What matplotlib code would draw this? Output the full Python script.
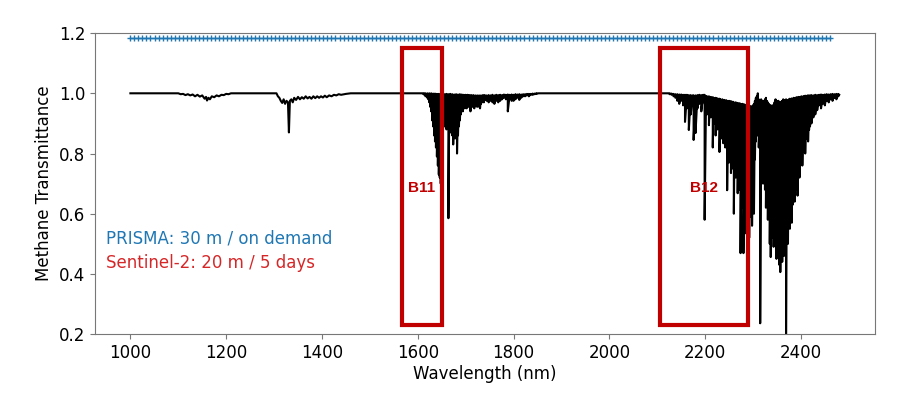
import numpy as np
import matplotlib.pyplot as plt
from matplotlib.patches import Rectangle

# ---- methane transmittance (wavelength nm, transmittance) ----
# quiet stretches and weak bands, as a plain line
wl_weak = [1000, 1100, 1105, 1110, 1115, 1120, 1125, 1130, 1135, 1140, 1145, 1150,
           1155, 1158, 1160, 1163, 1166, 1170, 1175, 1180, 1185, 1190, 1195, 1200,
           1205, 1210, 1305, 1308, 1311, 1314, 1317, 1320, 1323, 1326, 1329, 1331,
           1333, 1336, 1339, 1342, 1346, 1350, 1354, 1358, 1362, 1366, 1370, 1374,
           1378, 1382, 1386, 1390, 1394, 1398, 1402, 1406, 1410, 1415, 1420, 1425,
           1430, 1435, 1440, 1450, 1460, 1605]
t_weak = [1.0, 1.0, 0.997, 0.998, 0.994, 0.997, 0.993, 0.996, 0.99, 0.995, 0.989, 0.993,
          0.982, 0.988, 0.976, 0.985, 0.98, 0.99, 0.987, 0.993, 0.99, 0.995, 0.994, 0.998,
          0.997, 1.0, 1.0, 0.99, 0.985, 0.975, 0.968, 0.98, 0.965, 0.975, 0.97, 0.87,
          0.975, 0.98, 0.97, 0.985, 0.978, 0.988, 0.98, 0.987, 0.982, 0.99, 0.983, 0.988,
          0.982, 0.99, 0.984, 0.99, 0.985, 0.99, 0.986, 0.992, 0.987, 0.993, 0.99, 0.995,
          0.993, 0.997, 0.995, 0.998, 1.0, 1.0]

# 1.65 um band (Sentinel-2 B11 side): one entry per line, top of the line and its bottom
b11_wl = [1612, 1614, 1616, 1618, 1620, 1622, 1624, 1626, 1628, 1630, 1632, 1634, 1636,
          1638, 1640, 1642, 1644, 1646, 1648, 1650, 1652, 1654, 1656, 1658, 1660, 1662,
          1664, 1666, 1668, 1670, 1672, 1674, 1676, 1678, 1680, 1682, 1684, 1686, 1688,
          1690, 1692, 1694, 1696, 1698, 1700, 1702, 1704, 1706, 1708, 1710, 1712, 1714,
          1716, 1718, 1720, 1722, 1724, 1726, 1728, 1730, 1732, 1734, 1736, 1738, 1740,
          1744, 1748, 1752, 1756, 1760, 1764, 1768, 1772, 1776, 1780, 1784, 1788, 1792,
          1796, 1800, 1804, 1808, 1812, 1816, 1820, 1824, 1828, 1832, 1836, 1840, 1844,
          1848, 1852, 2120]
b11_top = [1.0, 0.999, 1.0, 0.998, 1.0, 0.998, 1.0, 0.997, 1.0, 0.997, 0.999, 0.996, 0.999,
           0.996, 0.998, 0.995, 0.998, 0.995, 0.997, 0.995, 0.998, 0.995, 0.997, 0.995, 0.998,
           0.995, 0.997, 0.995, 0.998, 0.994, 0.997, 0.994, 0.996, 0.994, 0.997, 0.994, 0.996,
           0.994, 0.997, 0.993, 0.996, 0.993, 0.995, 0.993, 0.995, 0.992, 0.995, 0.992, 0.994,
           0.992, 0.994, 0.991, 0.994, 0.991, 0.993, 0.991, 0.993, 0.99, 0.993, 0.99, 0.993,
           0.991, 0.994, 0.992, 0.994, 0.993, 0.994, 0.993, 0.995, 0.993, 0.995, 0.994, 0.995,
           0.994, 0.996, 0.995, 0.996, 0.995, 0.996, 0.995, 0.997, 0.996, 0.997, 0.996, 0.997,
           0.997, 0.998, 0.998, 0.998, 0.999, 0.999, 1.0, 1.0, 1.0]
b11_dip = [0.997, 0.995, 0.99, 0.993, 0.985, 0.98, 0.97, 0.955, 0.94, 0.91, 0.89, 0.86, 0.84,
           0.82, 0.79, 0.76, 0.73, 0.72, 0.70, 0.75, 0.88, 0.90, 0.89, 0.91, 0.88, 0.90,
           0.585, 0.89, 0.87, 0.90, 0.86, 0.83, 0.88, 0.85, 0.87, 0.80, 0.86, 0.89, 0.91,
           0.93, 0.95, 0.94, 0.96, 0.95, 0.965, 0.95, 0.96, 0.955, 0.965, 0.94, 0.96, 0.955,
           0.965, 0.95, 0.96, 0.965, 0.955, 0.96, 0.955, 0.95, 0.965, 0.97, 0.975, 0.97, 0.978,
           0.975, 0.97, 0.975, 0.97, 0.965, 0.975, 0.97, 0.975, 0.98, 0.985, 0.98, 0.94, 0.98,
           0.975, 0.975, 0.98, 0.985, 0.978, 0.985, 0.99, 0.99, 0.993, 0.99, 0.995, 0.995,
           0.997, 0.998, 1.0, 1.0]

# 2.3 um band (Sentinel-2 B12 side): one entry per line, top of the line and its bottom
b12_wl = [2126, 2130, 2134, 2138, 2142, 2146, 2150, 2154, 2158, 2162, 2166, 2170, 2174,
          2176, 2180, 2184, 2188, 2192, 2196, 2199, 2202, 2204, 2206, 2208, 2210, 2212,
          2214, 2216, 2218, 2220, 2222, 2224, 2226, 2228, 2230, 2232, 2234, 2236, 2238,
          2240, 2242, 2244, 2246, 2248, 2250, 2252, 2254, 2256, 2258, 2260, 2262, 2264,
          2266, 2268, 2270, 2272, 2274, 2276, 2278, 2280, 2282, 2284, 2286, 2288, 2290,
          2292, 2294, 2296, 2298, 2300, 2302, 2304, 2306, 2308, 2310, 2312, 2315, 2317,
          2319, 2321, 2323, 2325, 2327, 2329, 2331, 2333, 2335, 2337, 2339, 2341, 2343,
          2345, 2347, 2349, 2351, 2353, 2355, 2357, 2359, 2361, 2363, 2365, 2367, 2369,
          2371, 2373, 2375, 2377, 2379, 2381, 2383, 2385, 2387, 2389, 2391, 2393, 2395,
          2397, 2399, 2401, 2403, 2405, 2407, 2409, 2411, 2413, 2415, 2417, 2419, 2422,
          2426, 2430, 2434, 2438, 2442, 2446, 2450, 2454, 2458, 2462, 2466, 2470, 2474,
          2478, 2480]
b12_top = [1.0, 0.999, 0.998, 0.997, 0.997, 0.996, 0.996, 0.995, 0.995, 0.995, 0.994, 0.994,
           0.993, 0.993, 0.993, 0.994, 0.995, 0.994, 0.995, 0.995,
           0.99, 0.99, 0.988, 0.99, 0.987, 0.988, 0.985, 0.987, 0.985, 0.983, 0.985, 0.982,
           0.983, 0.98, 0.982, 0.98, 0.978, 0.98, 0.977, 0.978, 0.975, 0.977, 0.975, 0.973,
           0.975,
           0.972, 0.974, 0.97, 0.972, 0.97, 0.968, 0.97, 0.967, 0.968, 0.965, 0.967, 0.965,
           0.963, 0.965, 0.962, 0.963, 0.96, 0.962, 0.96, 0.958, 0.96, 0.955, 0.957, 0.955,
           0.96, 0.965, 0.975, 0.985, 0.99, 1.0, 0.98,
           0.975,
           0.98, 0.975, 0.97, 0.975, 0.98, 0.985, 0.975, 0.97, 0.965, 0.96, 0.96, 0.958,
           0.96, 0.955, 0.97, 0.98, 0.975, 0.97, 0.975, 0.97, 0.968, 0.972, 0.975, 0.98,
           0.978, 0.975, 0.98, 0.978, 0.975, 0.98, 0.982, 0.98, 0.983, 0.98, 0.985, 0.983,
           0.985, 0.987, 0.985, 0.988, 0.987, 0.988, 0.99, 0.988, 0.99, 0.99, 0.992, 0.99,
           0.992, 0.993, 0.992, 0.993,
           0.994, 0.993, 0.995, 0.994, 0.995, 0.996, 0.995, 0.996, 0.997, 0.996, 0.997,
           0.998, 0.997, 0.998, 0.998,
           0.995]
b12_dip = [0.997, 0.995, 0.99, 0.985, 0.975, 0.965, 0.975, 0.96, 0.905, 0.95, 0.878, 0.93,
           0.96, 0.845, 0.868, 0.95, 0.965, 0.94, 0.97, 0.58, 0.95, 0.93, 0.96, 0.894,
           0.94, 0.92, 0.95, 0.82, 0.93, 0.90, 0.86, 0.92, 0.88, 0.91, 0.805, 0.88,
           0.85, 0.89, 0.834, 0.87, 0.82, 0.86, 0.678, 0.80, 0.77, 0.81, 0.735, 0.79,
           0.75, 0.60, 0.76, 0.72, 0.74, 0.668, 0.71, 0.68, 0.469, 0.66, 0.62, 0.469,
           0.60, 0.535, 0.58, 0.56, 0.60, 0.52, 0.59, 0.61, 0.56, 0.62, 0.60, 0.78,
           0.84, 0.88, 0.86, 0.82, 0.236, 0.72, 0.74, 0.70, 0.76, 0.68, 0.62, 0.70,
           0.58, 0.64, 0.50, 0.456, 0.55, 0.52, 0.49, 0.57, 0.53, 0.45, 0.50, 0.47,
           0.43, 0.406, 0.48, 0.44, 0.50, 0.46, 0.52, 0.19, 0.55, 0.50, 0.58, 0.55,
           0.60, 0.57, 0.63, 0.655, 0.64, 0.68, 0.70, 0.66, 0.745, 0.72, 0.77, 0.80,
           0.76, 0.805, 0.83, 0.80, 0.85, 0.87, 0.84, 0.878, 0.89, 0.90, 0.92, 0.93,
           0.944, 0.96, 0.95, 0.965, 0.96, 0.975, 0.97, 0.98, 0.975, 0.985, 0.98, 0.99,
           0.995]

# PRISMA band centres (blue, plotted at a fixed height above the spectrum)
prisma_first, prisma_last, prisma_count = 1000, 2461, 175
prisma_level = 1.185

# Sentinel-2 bands: name, start, end (nm)
s2_names = ["B11", "B12"]
s2_start = [1567, 2105]
s2_end = [1650, 2290]
box_bottom, box_top = 0.23, 1.15
label_level = 0.685


def line_series(centres, tops, dips):
    # each absorption line: drop from its top straight down to its bottom
    x = np.repeat(centres, 2)
    y = np.column_stack([tops, dips]).ravel()
    return x, y


x11, y11 = line_series(b11_wl, b11_top, b11_dip)
x12, y12 = line_series(b12_wl, b12_top, b12_dip)
wl = np.concatenate([wl_weak, x11, x12])
t = np.concatenate([t_weak, y11, y12])

plt.rcParams['font.family'] = ['DejaVu Sans']
fig = plt.figure(figsize=(9.13, 3.94), dpi=100)
ax = fig.add_axes([0.104, 0.152, 0.854, 0.764])

ax.plot(wl, t, color='k', lw=1.5)
prisma_wl = np.linspace(prisma_first, prisma_last, prisma_count)
ax.plot(prisma_wl, [prisma_level] * len(prisma_wl), color='#1f77b4', marker='+',
        markersize=4, lw=1)

for name, a, b in zip(s2_names, s2_start, s2_end):
    ax.add_patch(Rectangle((a, box_bottom), b - a, box_top - box_bottom, fill=False,
                           edgecolor='#c00000', lw=3, zorder=5))
    ax.text((a + b) / 2, label_level, name, color='#c00000', fontsize=11,
            fontweight='bold', family='Liberation Sans', ha='center', va='center')

ax.text(950, 0.516, "PRISMA: 30 m / on demand", color='#1f77b4', fontsize=12, va='center')
ax.text(950, 0.436, "Sentinel-2: 20 m / 5 days", color='#d62728', fontsize=12, va='center')

ax.set_ylim(0.2, 1.2)
ax.set_xlim(926, 2554)
ax.set_xticks([1000, 1200, 1400, 1600, 1800, 2000, 2200, 2400])
ax.set_yticks([0.2, 0.4, 0.6, 0.8, 1.0, 1.2])
ax.set_xlabel("Wavelength (nm)", fontsize=12, labelpad=2)
ax.set_ylabel("Methane Transmittance", fontsize=12)
ax.tick_params(labelsize=12, color='#777777')
for s in ax.spines.values():
    s.set_color('#777777')

fig.savefig("out.png", dpi=100)
